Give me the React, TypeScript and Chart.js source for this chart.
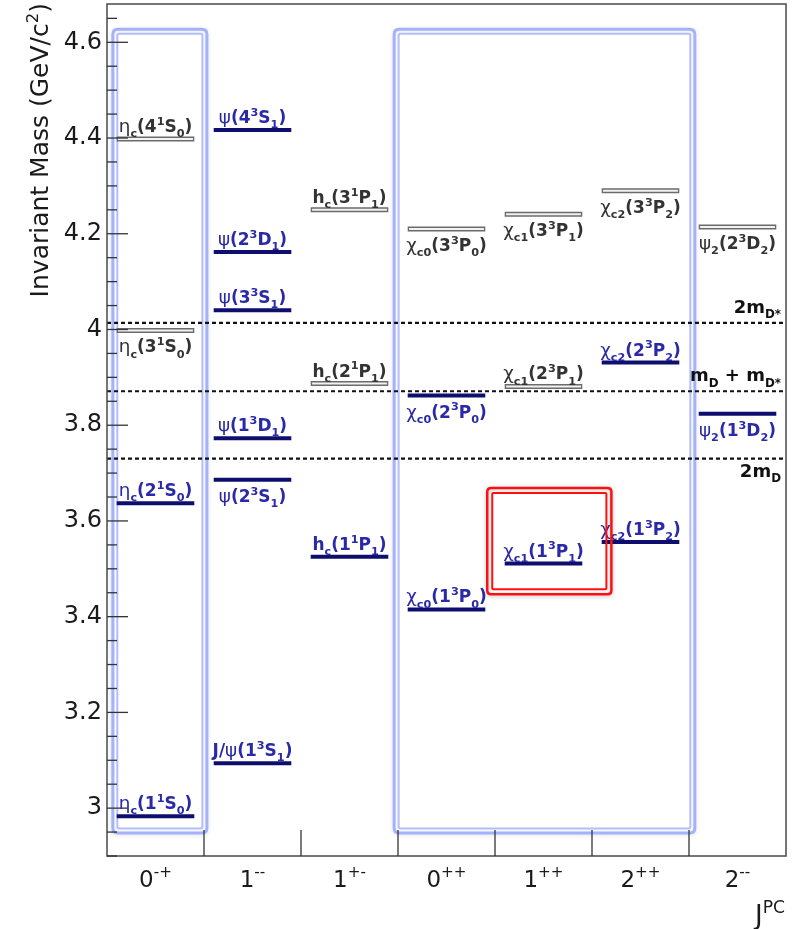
import React, { useEffect, useRef } from "react";
import { Chart, registerables } from "chart.js";

Chart.register(...registerables);

// ---------- data ----------
const categoryJ = ["0", "1", "1", "0", "1", "2", "2"];
const categoryPC = ["-+", "--", "+-", "++", "++", "++", "--"];
const yTickValues = [3, 3.2, 3.4, 3.6, 3.8, 4, 4.2, 4.4, 4.6];

const stateNames = [
  "η_{c}(1^{1}S_{0})",
  "η_{c}(2^{1}S_{0})",
  "η_{c}(3^{1}S_{0})",
  "η_{c}(4^{1}S_{0})",
  "J/ψ(1^{3}S_{1})",
  "ψ(2^{3}S_{1})",
  "ψ(1^{3}D_{1})",
  "ψ(3^{3}S_{1})",
  "ψ(2^{3}D_{1})",
  "ψ(4^{3}S_{1})",
  "h_{c}(1^{1}P_{1})",
  "h_{c}(2^{1}P_{1})",
  "h_{c}(3^{1}P_{1})",
  "χ_{c0}(1^{3}P_{0})",
  "χ_{c0}(2^{3}P_{0})",
  "χ_{c0}(3^{3}P_{0})",
  "χ_{c1}(1^{3}P_{1})",
  "χ_{c1}(2^{3}P_{1})",
  "χ_{c1}(3^{3}P_{1})",
  "χ_{c2}(1^{3}P_{2})",
  "χ_{c2}(2^{3}P_{2})",
  "χ_{c2}(3^{3}P_{2})",
  "ψ_{2}(1^{3}D_{2})",
  "ψ_{2}(2^{3}D_{2})",
];
const stateColumn = [0, 0, 0, 0, 1, 1, 1, 1, 1, 1, 2, 2, 2, 3, 3, 3, 4, 4, 4, 5, 5, 5, 6, 6];
const stateMass = [
  2.983, 3.637, 3.998, 4.398,
  3.094, 3.686, 3.773, 4.040, 4.162, 4.417,
  3.525, 3.887, 4.250,
  3.415, 3.862, 4.210,
  3.511, 3.881, 4.241,
  3.556, 3.931, 4.290,
  3.824, 4.214,
];
const stateObserved = [
  true, true, false, false,
  true, true, true, true, true, true,
  true, false, false,
  true, true, false,
  true, false, false,
  true, true, false,
  true, false,
];
const stateLabelBelow = [
  false, false, true, false,
  false, true, false, false, false, false,
  false, false, false,
  false, true, true,
  false, false, true,
  false, false, true,
  true, true,
];

const thresholdNames = ["2m_{D}", "m_{D} + m_{D*}", "2m_{D*}"];
const thresholdMass = [3.73, 3.871, 4.014];
const thresholdLabelBelow = [true, false, false];

const groupBoxColumns = [
  [-0.44, 0.53],
  [2.46, 5.56],
];
const groupBoxMass = [2.948, 4.627];
const highlightColumns = [3.42, 4.7];
const highlightMass = [3.447, 3.669];

// ---------- style ----------
const FAM = '"DejaVu Sans", "Liberation Sans", Arial, sans-serif';
const NAVY = "#0e0e6e";
const BLUE_TEXT = "#2a2aa8";
const GRAY_TEXT = "#333333";
const HALF = 0.4;

type Seg = { t: string; k: 0 | 1 | 2 };
function parseRich(s: string): Seg[] {
  const out: Seg[] = [];
  let buf = "";
  let i = 0;
  while (i < s.length) {
    const ch = s[i];
    if ((ch === "_" || ch === "^") && s[i + 1] === "{") {
      if (buf) {
        out.push({ t: buf, k: 0 });
        buf = "";
      }
      const end = s.indexOf("}", i + 2);
      out.push({ t: s.slice(i + 2, end), k: ch === "_" ? 1 : 2 });
      i = end + 1;
    } else {
      buf += ch;
      i++;
    }
  }
  if (buf) out.push({ t: buf, k: 0 });
  return out;
}
const GREEK = /[\u0370-\u03ff]/;

function drawRich(
  ctx: CanvasRenderingContext2D,
  str: string,
  x: number,
  y: number,
  align: "left" | "center" | "right",
  size: number,
  color: string,
  bold: boolean
) {
  const segs = parseRich(str);
  const pieces: { t: string; font: string; dy: number }[] = [];
  for (const s of segs) {
    const sz = s.k === 0 ? size : size * 0.66;
    const dy = s.k === 1 ? size * 0.3 : s.k === 2 ? -size * 0.42 : 0;
    let cur = "";
    let curG: boolean | null = null;
    const flush = () => {
      if (!cur) return;
      const w = curG ? "normal" : bold ? "bold" : "normal";
      const gs = curG ? sz * 1.08 : sz;
      pieces.push({ t: cur, font: `${w} ${gs}px ${FAM}`, dy });
      cur = "";
    };
    for (const ch of s.t) {
      const g = GREEK.test(ch);
      if (curG !== null && g !== curG) flush();
      cur += ch;
      curG = g;
    }
    flush();
  }
  let total = 0;
  const widths: number[] = [];
  for (const p of pieces) {
    ctx.font = p.font;
    const w = ctx.measureText(p.t).width;
    widths.push(w);
    total += w;
  }
  let cx = align === "left" ? x : align === "center" ? x - total / 2 : x - total;
  ctx.fillStyle = color;
  ctx.textAlign = "left";
  ctx.textBaseline = "alphabetic";
  pieces.forEach((p, i) => {
    ctx.font = p.font;
    ctx.fillText(p.t, cx, y + p.dy);
    cx += widths[i];
  });
}

function roundRect(ctx: CanvasRenderingContext2D, x: number, y: number, w: number, h: number, r: number) {
  ctx.beginPath();
  ctx.moveTo(x + r, y);
  ctx.lineTo(x + w - r, y);
  ctx.quadraticCurveTo(x + w, y, x + w, y + r);
  ctx.lineTo(x + w, y + h - r);
  ctx.quadraticCurveTo(x + w, y + h, x + w - r, y + h);
  ctx.lineTo(x + r, y + h);
  ctx.quadraticCurveTo(x, y + h, x, y + h - r);
  ctx.lineTo(x, y + r);
  ctx.quadraticCurveTo(x, y, x + r, y);
  ctx.closePath();
}

const decorPlugin = {
  id: "decor",
  beforeDatasetsDraw(chart: any) {
    const ctx: CanvasRenderingContext2D = chart.ctx;
    const xs = chart.scales.x;
    const ys = chart.scales.y;
    ctx.save();
    for (const [c0, c1] of groupBoxColumns) {
      const x0 = xs.getPixelForValue(c0);
      const x1 = xs.getPixelForValue(c1);
      const y0 = ys.getPixelForValue(groupBoxMass[1]);
      const y1 = ys.getPixelForValue(groupBoxMass[0]);
      ctx.shadowColor = "rgba(0,0,0,0.12)";
      ctx.shadowBlur = 4;
      ctx.shadowOffsetY = 1;
      ctx.strokeStyle = "#a4b2fb";
      ctx.lineWidth = 3;
      roundRect(ctx, x0, y0, x1 - x0, y1 - y0, 5);
      ctx.stroke();
      ctx.shadowColor = "transparent";
      ctx.strokeStyle = "#b2befc";
      ctx.lineWidth = 2;
      roundRect(ctx, x0 + 4.5, y0 + 4.5, x1 - x0 - 9, y1 - y0 - 9, 2);
      ctx.stroke();
    }
    ctx.restore();
  },
  afterDatasetsDraw(chart: any) {
    const ctx: CanvasRenderingContext2D = chart.ctx;
    const xs = chart.scales.x;
    const ys = chart.scales.y;
    const area = chart.chartArea;
    ctx.save();

    // frame
    ctx.strokeStyle = "#4a4a4a";
    ctx.lineWidth = 1.5;
    ctx.strokeRect(area.left, area.top, area.right - area.left, area.bottom - area.top);

    // y ticks (inward)
    ctx.strokeStyle = "#333";
    ctx.lineWidth = 1.3;
    for (let k = 58; k <= 93; k++) {
      const v = k * 0.05;
      const py = ys.getPixelForValue(v);
      if (py < area.top || py > area.bottom) continue;
      const len = k % 4 === 0 ? 21 : 10;
      ctx.beginPath();
      ctx.moveTo(area.left, py);
      ctx.lineTo(area.left + len, py);
      ctx.stroke();
    }
    // x boundary ticks
    for (let b = 0.5; b < 6; b += 1) {
      const px = xs.getPixelForValue(b);
      ctx.beginPath();
      ctx.moveTo(px, area.bottom);
      ctx.lineTo(px, area.bottom - 26);
      ctx.stroke();
    }

    // level labels
    stateNames.forEach((name, i) => {
      const px = xs.getPixelForValue(stateColumn[i]);
      const py = ys.getPixelForValue(stateMass[i]);
      const by = stateLabelBelow[i] ? py + 22 : py - 7;
      drawRich(ctx, name, px, by, "center", 17, stateObserved[i] ? BLUE_TEXT : GRAY_TEXT, true);
    });

    // threshold labels
    thresholdNames.forEach((name, i) => {
      const py = ys.getPixelForValue(thresholdMass[i]);
      const by = thresholdLabelBelow[i] ? py + 18 : py - 10;
      drawRich(ctx, name, area.right - 5, by, "right", 18, "#111", true);
    });

    // highlight box
    {
      const x0 = xs.getPixelForValue(highlightColumns[0]);
      const x1 = xs.getPixelForValue(highlightColumns[1]);
      const y0 = ys.getPixelForValue(highlightMass[1]);
      const y1 = ys.getPixelForValue(highlightMass[0]);
      ctx.shadowColor = "rgba(0,0,0,0.25)";
      ctx.shadowBlur = 4;
      ctx.shadowOffsetY = 1;
      ctx.strokeStyle = "#ff1010";
      ctx.lineWidth = 2.5;
      roundRect(ctx, x0, y0, x1 - x0, y1 - y0, 4);
      ctx.stroke();
      ctx.shadowColor = "transparent";
      ctx.lineWidth = 2;
      roundRect(ctx, x0 + 5, y0 + 5, x1 - x0 - 10, y1 - y0 - 10, 1);
      ctx.stroke();
    }

    // x category labels
    categoryJ.forEach((j, i) => {
      const px = xs.getPixelForValue(i);
      drawRich(ctx, `${j}^{${categoryPC[i]}}`, px, area.bottom + 31, "center", 23, "#1a1a1a", false);
    });
    drawRich(ctx, "J^{PC}", area.right - 1, 924, "right", 26, "#1a1a1a", false);

    // y title
    ctx.translate(48, 3);
    ctx.rotate(-Math.PI / 2);
    drawRich(ctx, "Invariant Mass (GeV/c^{2})", 0, 0, "right", 25, "#1a1a1a", false);

    ctx.restore();
  },
};

function buildDatasets() {
  const ds: any[] = [];
  const base = { pointRadius: 0, pointHoverRadius: 0, fill: false, tension: 0, borderCapStyle: "butt" };
  stateMass.forEach((m, i) => {
    const c = stateColumn[i];
    if (stateObserved[i]) {
      ds.push({
        ...base,
        label: stateNames[i],
        data: [
          { x: c - HALF, y: m },
          { x: c + HALF, y: m },
        ],
        borderColor: NAVY,
        borderWidth: 4,
        order: 1,
      });
    } else {
      ds.push({
        ...base,
        label: stateNames[i],
        data: [
          { x: c - HALF, y: m },
          { x: c + HALF, y: m },
        ],
        borderColor: "#6b6b6b",
        borderWidth: 5,
        order: 2,
      });
      ds.push({
        ...base,
        label: stateNames[i] + " inner",
        data: [
          { x: c - HALF + 0.014, y: m },
          { x: c + HALF - 0.014, y: m },
        ],
        borderColor: "#f2f2f2",
        borderWidth: 2,
        order: 1,
      });
    }
  });
  thresholdMass.forEach((m, i) => {
    ds.push({
      ...base,
      label: thresholdNames[i],
      data: [
        { x: -0.5, y: m },
        { x: 6.5, y: m },
      ],
      borderColor: "#111",
      borderWidth: 2.2,
      borderDash: [4, 3],
      order: 3,
    });
  });
  return ds;
}

export default function App() {
  const ref = useRef<HTMLCanvasElement | null>(null);
  useEffect(() => {
    document.body.style.margin = "0";
    document.body.style.overflow = "hidden";
    const canvas = ref.current;
    if (!canvas) return;
    const chart = new Chart(canvas, {
      type: "line",
      data: { datasets: buildDatasets() },
      options: {
        responsive: false,
        animation: false,
        devicePixelRatio: 1,
        layout: { padding: { top: 4, right: 10, left: 0, bottom: 0 } },
        plugins: { legend: { display: false }, tooltip: { enabled: false }, title: { display: false } },
        events: [],
        scales: {
          x: {
            type: "linear",
            min: -0.5,
            max: 6.5,
            ticks: { display: false },
            grid: { display: false, drawTicks: false, tickLength: 0 },
            border: { display: false },
            afterFit: (s: any) => {
              s.height = 73;
              s.paddingLeft = 0;
              s.paddingRight = 0;
            },
          },
          y: {
            type: "linear",
            min: 2.9,
            max: 4.68,
            afterBuildTicks: (s: any) => {
              s.ticks = yTickValues.map((v) => ({ value: v }));
            },
            ticks: {
              autoSkip: false,
              padding: 5,
              color: "#1a1a1a",
              font: { family: FAM, size: 24 },
              callback: (v: any) => String(v),
            },
            grid: { display: false, drawTicks: false, tickLength: 0 },
            border: { display: false },
            afterFit: (s: any) => {
              s.width = 107;
              s.paddingTop = 0;
              s.paddingBottom = 0;
            },
          },
        },
      } as any,
      plugins: [decorPlugin as any],
    });
    return () => chart.destroy();
  }, []);
  return (
    <div style={{ width: 796, height: 929, background: "#fff" }}>
      <canvas ref={ref} width={796} height={929} style={{ display: "block" }} />
    </div>
  );
}
